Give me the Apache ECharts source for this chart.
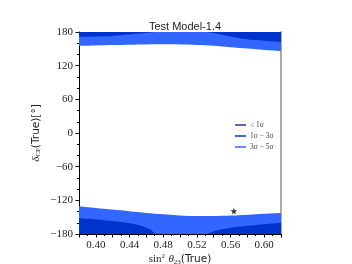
<!DOCTYPE html>
<html><head><meta charset="utf-8">
<script src="https://cdn.jsdelivr.net/npm/echarts@6/dist/echarts.min.js"></script>
<style>html,body{margin:0;padding:0;background:#fff}#c{width:352px;height:264px}</style>
</head><body><div id="c"></div>
<script>
// Data
const titleText = 'Test Model-1.4';
const seriesNames = ['≤ 1σ', '1σ − 3σ', '3σ − 5σ'];
const xTickLabels = ['0.40', '0.44', '0.48', '0.52', '0.56', '0.60'];
const yTickLabels = [-180, -120, -60, 0, 60, 120, 180];

// 3σ–5σ region, top part (from boundary up to 180)
const topLightX = [0.38, 0.40, 0.42, 0.44, 0.46, 0.48, 0.50, 0.52, 0.54, 0.56, 0.58, 0.60, 0.62];
const topLightY = [155.5, 156, 156.8, 157.4, 157.8, 158, 157.8, 157, 155.5, 153, 150.5, 148, 146];
// 1σ–3σ region, top part
const topDarkX = [0.38, 0.40, 0.42, 0.44, 0.46, 0.475, 0.50, 0.53, 0.545, 0.56, 0.58, 0.60, 0.62];
const topDarkY = [171.5, 172, 173, 175.5, 178.5, 180, 180, 180, 176.5, 172, 167, 164.5, 162];
// 3σ–5σ region, bottom part (from -180 up to boundary)
const botLightX = [0.38, 0.40, 0.42, 0.44, 0.46, 0.48, 0.50, 0.52, 0.54, 0.56, 0.58, 0.60, 0.62];
const botLightY = [-130.5, -133.5, -136.5, -139.5, -142.5, -145, -147, -148, -148, -147, -145.5, -144, -142.5];
// 1σ–3σ region, bottom part
const botDarkX = [0.38, 0.40, 0.42, 0.44, 0.455, 0.465, 0.472, 0.53, 0.54, 0.555, 0.57, 0.59, 0.62];
const botDarkY = [-152, -154, -157, -161, -166, -172, -180, -180, -175, -170, -167, -164, -160];
// best-fit star
const starX = [0.564];
const starY = [-139];

const pairs = (xs, ys) => xs.map((x, i) => [x, ys[i]]);
const C1 = '#1d3a8c', C2 = '#0033cc', C3 = '#3366ff';
const serif = 'Liberation Serif';
const starPath = 'path://M50,0 L61,35 L98,35 L68,57 L79,91 L50,70 L21,91 L32,57 L2,35 L39,35 Z';

function band(name, color, xs, ys, origin) {
  return {
    name: name, type: 'line', data: pairs(xs, ys), smooth: 0.3, showSymbol: false,
    symbol: 'none', color: color,
    lineStyle: {width: 0, color: color},
    areaStyle: {color: color, opacity: 1, origin: origin},
    silent: true, clip: true
  };
}

const chart = echarts.init(document.getElementById('c'), null, {renderer: 'canvas'});
chart.setOption({
  animation: false,
  backgroundColor: '#fff',
  title: {
    text: titleText, left: 180, top: 16, textAlign: 'center',
    textStyle: {fontFamily: 'Liberation Sans', fontSize: 11, fontWeight: 'normal', color: '#222'}
  },
  legend: {
    data: seriesNames, orient: 'vertical', left: 230, top: 116, itemGap: 3,
    icon: 'rect', itemWidth: 11, itemHeight: 1.5,
    textStyle: {fontFamily: serif, fontSize: 7.5, color: '#444', padding: [0, 0, 0, -1]}
  },
  grid: {left: 79, right: 71, top: 32, bottom: 30, containLabel: false, outerBoundsMode: 'none'},
  xAxis: {
    type: 'value', min: 0.38, max: 0.62, interval: 0.02,
    name: '{a|sin}{sup|2} {i|θ}{sub|23}{b|(True)}', nameLocation: 'middle', nameGap: 19,
    nameMoveOverlap: false,
    nameTextStyle: {
      rich: {
        a: {fontFamily: serif, fontSize: 11, color: '#222'},
        sup: {fontFamily: serif, fontSize: 7, color: '#222', verticalAlign: 'top', padding: [0, 0, 6, 0]},
        i: {fontFamily: serif, fontStyle: 'italic', fontSize: 11, color: '#222'},
        sub: {fontFamily: serif, fontSize: 7, color: '#222', padding: [5, 0, 0, 0]},
        b: {fontFamily: 'DejaVu Sans', fontSize: 10.5, color: '#222'}
      }
    },
    axisLine: {show: true, onZero: false, lineStyle: {color: '#000', width: 1}},
    axisTick: {show: true, inside: false, length: 3.5, lineStyle: {color: '#000'}},
    minorTick: {show: true, splitNumber: 2, length: 2, lineStyle: {color: '#000'}},
    splitLine: {show: false},
    axisLabel: {
      margin: 6, fontFamily: serif, fontSize: 11, color: '#222',
      formatter: function (v) {
        const s = v.toFixed(2);
        return xTickLabels.indexOf(s) >= 0 ? s : '';
      }
    }
  },
  yAxis: [{
    type: 'value', min: -180, max: 180, interval: 60,
    name: '{i|δ}{sub|CP}{b|(True)[°]}', nameLocation: 'middle', nameGap: 37, nameRotate: 90,
    nameMoveOverlap: false,
    nameTextStyle: {
      rich: {
        i: {fontFamily: serif, fontStyle: 'italic', fontSize: 11, color: '#222'},
        sub: {fontFamily: serif, fontSize: 7, color: '#222', padding: [5, 0, 0, 0]},
        b: {fontFamily: 'DejaVu Sans', fontSize: 10.5, color: '#222'}
      }
    },
    axisLine: {show: true, onZero: false, lineStyle: {color: '#000', width: 1}},
    axisTick: {show: true, inside: false, length: 3.5, lineStyle: {color: '#000'}},
    minorTick: {show: true, splitNumber: 3, length: 2, lineStyle: {color: '#000'}},
    splitLine: {show: false},
    axisLabel: {
      margin: 6, fontFamily: serif, fontSize: 11, color: '#222',
      formatter: function (v) {
        const r = Math.round(v);
        return yTickLabels.indexOf(r) >= 0 ? String(r).replace('-', '−') : '';
      }
    }
  }, {
    type: 'value', min: -180, max: 180, position: 'right',
    axisLine: {show: true, onZero: false, lineStyle: {color: '#aaa', width: 2}},
    axisTick: {show: false}, axisLabel: {show: false}, splitLine: {show: false}
  }],
  series: [
    band(seriesNames[2], C3, topLightX, topLightY, 'end'),
    band(seriesNames[2], C3, botLightX, botLightY, 'start'),
    band(seriesNames[1], C2, topDarkX, topDarkY, 'end'),
    band(seriesNames[1], C2, botDarkX, botDarkY, 'start'),
    {name: seriesNames[0], type: 'line', data: [], color: C1, lineStyle: {color: C1}},
    {
      name: 'star', type: 'scatter', data: pairs(starX, starY), symbol: starPath,
      symbolSize: 7, itemStyle: {color: '#000'}, silent: true, z: 5
    }
  ]
});
</script></body></html>
